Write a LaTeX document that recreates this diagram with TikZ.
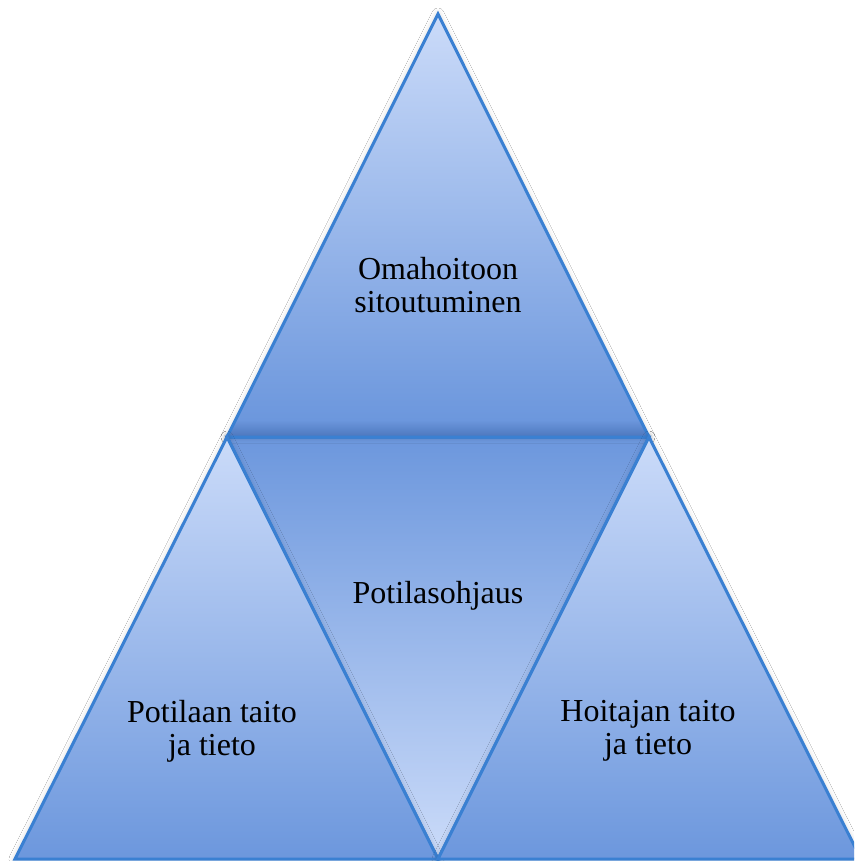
\documentclass[tikz,border=0pt]{standalone}
\usepackage{fontspec}
\setmainfont{Liberation Serif}
\usetikzlibrary{shadows.blur}
\definecolor{lite}{HTML}{CBDBF9}
\definecolor{dark}{HTML}{6C97DD}
\definecolor{deep}{HTML}{4C76BC}
\definecolor{edge}{HTML}{3A80D2}
\pgfdeclareverticalshading{topshade}{100bp}{color(0bp)=(deep); color(25bp)=(deep); color(27bp)=(dark); color(75bp)=(lite); color(100bp)=(lite)}
\begin{document}
\begin{tikzpicture}[x=1pt,y=-1pt,
  tri/.style={draw=edge, line width=3pt, line join=miter,
    blur shadow={shadow xshift=0pt, shadow yshift=0pt, shadow blur radius=6pt, shadow blur steps=10, shadow opacity=18}},
  up/.style={tri, top color=lite, bottom color=dark},
  down/.style={tri, top color=dark, bottom color=lite},
  topup/.style={tri, shading=topshade},
  lbl/.style={font=\fontsize{32}{33}\selectfont, align=center, text=black, inner sep=0pt}]
\useasboundingbox (0,0) rectangle (854,861);
\fill[white] (0,0) rectangle (854,861);
\clip (0,0) rectangle (854,861);
\coordinate (A) at (438,14);
\coordinate (L) at (227,437);
\coordinate (R) at (649,437);
\coordinate (BL) at (15,859);
\coordinate (BM) at (438,859);
\coordinate (BR) at (861,859);
\path[down] (L) -- (R) -- (BM) -- cycle;
\path[topup] (A) -- (R) -- (L) -- cycle;
\path[up] (L) -- (BM) -- (BL) -- cycle;
\path[up] (R) -- (BR) -- (BM) -- cycle;
\node[lbl] (top) at (438,285) {Omahoitoon\\sitoutuminen};
\node[lbl, anchor=base] (mid) at (438,603) {Potilasohjaus};
\node[lbl] (left) at (212,731) {Potilaan taito\\ja tieto};
\node[lbl] (right) at (648,731) {Hoitajan taito\\ja tieto};
\end{tikzpicture}
\end{document}
